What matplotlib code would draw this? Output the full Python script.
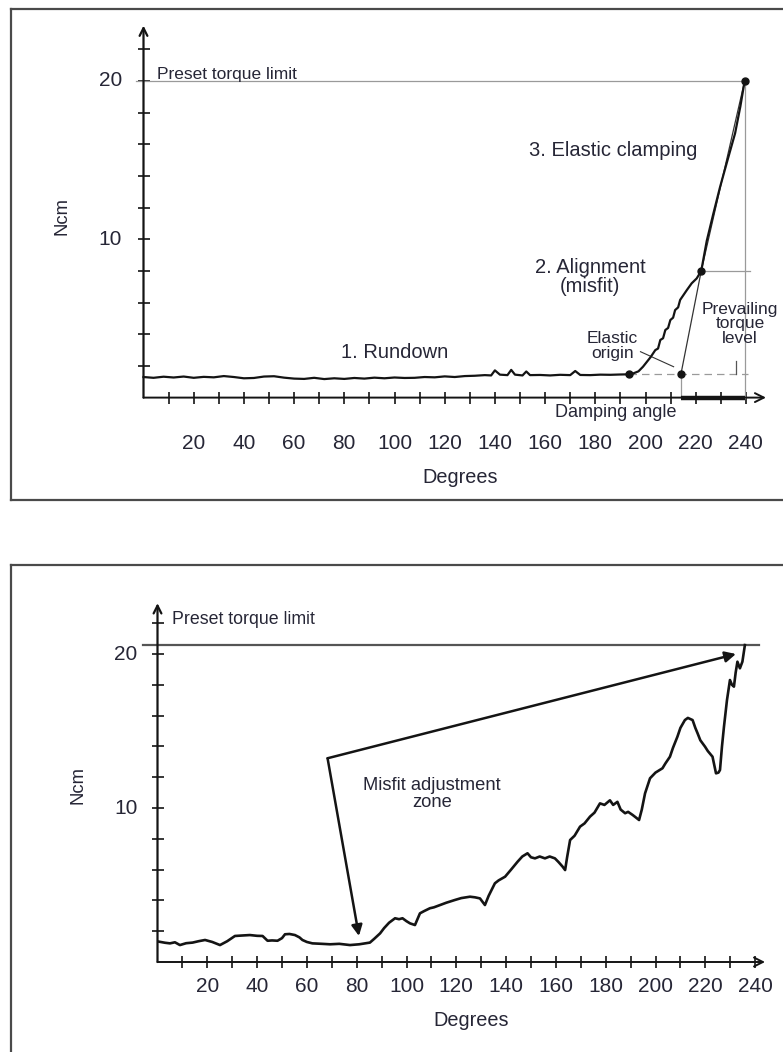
import matplotlib
matplotlib.use("Agg")
import matplotlib.pyplot as plt
from matplotlib.lines import Line2D

plt.rcParams['font.family'] = ['Liberation Sans', 'DejaVu Sans']

# ---------------- data ----------------
x_tick_labels = [20, 40, 60, 80, 100, 120, 140, 160, 180, 200, 220, 240]
x_minor_ticks = list(range(10, 250, 10))
y_ticks = [2, 4, 6, 8, 10, 12, 14, 16, 18, 20, 22]
y_tick_labels = [10, 20]

# Top panel: torque curve (degrees, Ncm)
top_deg = [0, 4, 8, 12, 16, 20, 24, 28, 32, 36, 40, 44, 48, 52, 56, 60, 64, 68, 72, 76,
           80, 84, 88, 92, 96, 100, 104, 108, 112, 116, 120, 124, 128, 132, 136, 138.5,
           140, 142, 145, 146.5, 148, 151, 152.5, 154, 158, 162, 166, 170, 172, 174, 178,
           182, 186, 190, 193.3, 195, 197.2, 199, 200.6, 202, 203.9, 205, 205.9, 207,
           207.9, 209, 209.9, 211, 211.8, 213, 213.8, 215, 216.5, 218.4, 220.4, 222.2,
           224.4, 227, 229.7, 232.5, 235.7, 237.8, 239.5]
top_ncm = [1.30, 1.25, 1.32, 1.27, 1.33, 1.25, 1.31, 1.28, 1.36, 1.30, 1.22, 1.24, 1.33,
           1.35, 1.26, 1.20, 1.18, 1.25, 1.17, 1.22, 1.18, 1.24, 1.20, 1.26, 1.22, 1.27,
           1.24, 1.25, 1.30, 1.28, 1.34, 1.30, 1.36, 1.38, 1.42, 1.40, 1.72, 1.45, 1.42,
           1.75, 1.45, 1.40, 1.65, 1.42, 1.43, 1.40, 1.44, 1.42, 1.68, 1.43, 1.42, 1.45,
           1.44, 1.46, 1.47, 1.52, 1.66, 1.95, 2.27, 2.55, 3.00, 3.10, 3.64, 3.75, 4.27,
           4.40, 4.90, 5.05, 5.53, 5.70, 6.17, 6.45, 6.80, 7.22, 7.53, 8.00, 9.90, 11.60,
           13.30, 14.90, 16.70, 18.40, 20.00]

# Key points on the top panel
elastic_origin = (193.3, 1.47)
prevailing_start = (214.1, 1.47)
alignment_end = (222.2, 8.0)
limit_point = (239.5, 20.0)
torque_limit_top = 20.0

# Bottom panel: torque curve (degrees, Ncm)
bot_deg = [0.6, 3, 5, 7, 9, 11.5, 14.1, 16.5, 19.1, 22, 25.1, 28, 31.1, 34, 37.1, 40, 42.2,
           44.2, 46, 48.2, 50, 51.2, 53, 55.2, 57, 58.2, 60, 62.2, 66, 69.3, 73, 77.3, 81,
           85.3, 87, 89.4, 91, 93, 95.4, 97, 98.4, 100, 101.4, 103.4, 105.4, 107, 109.4,
           111, 113.5, 116, 119.5, 122, 125.5, 127.5, 129.5, 131.5, 133, 135.5, 137,
           139.6, 142, 144.6, 146.5, 148.6, 150, 151.6, 153.5, 155.6, 157.5, 159.6, 161,
           162.7, 163.7, 164.5, 165.7, 167.5, 169.7, 171.5, 173.7, 175.5, 177.7, 179.5,
           181.7, 183, 184.7, 186, 187.8, 189, 190.8, 192, 193.4, 194.5, 195.8, 197.8,
           200, 202.8, 204, 205.8, 207, 208.8, 210, 211.8, 213, 214.9, 216, 216.9, 218,
           219.9, 221, 222.9, 224.3, 225.3, 225.9, 226.7, 227.5, 228.7, 229.9, 230.7,
           231.5, 232.2, 232.9, 233.9, 234.9, 235.9]
bot_ncm = [1.32, 1.25, 1.21, 1.28, 1.10, 1.22, 1.26, 1.35, 1.43, 1.30, 1.10, 1.35, 1.69,
           1.72, 1.75, 1.70, 1.69, 1.38, 1.40, 1.38, 1.55, 1.80, 1.82, 1.75, 1.60, 1.43,
           1.30, 1.21, 1.18, 1.15, 1.18, 1.10, 1.15, 1.26, 1.50, 1.86, 2.20, 2.55, 2.84,
           2.78, 2.84, 2.65, 2.51, 2.40, 3.16, 3.30, 3.49, 3.55, 3.70, 3.85, 4.03, 4.15,
           4.24, 4.20, 4.13, 3.70, 4.30, 5.11, 5.30, 5.54, 6.00, 6.51, 6.85, 7.06, 6.80,
           6.73, 6.85, 6.73, 6.85, 6.73, 6.50, 6.19, 5.97, 6.80, 7.92, 8.20, 8.79, 9.00,
           9.44, 9.70, 10.30, 10.20, 10.50, 10.20, 10.40, 9.90, 9.66, 9.75, 9.55, 9.40,
           9.22, 9.90, 10.95, 11.93, 12.30, 12.58, 12.90, 13.33, 13.90, 14.63, 15.20,
           15.71, 15.85, 15.71, 15.20, 14.85, 14.40, 13.98, 13.70, 13.33, 12.25, 12.30,
           12.47, 14.00, 15.28, 17.00, 18.31, 18.00, 17.88, 18.80, 19.50, 19.07, 19.50,
           20.58]
torque_limit_bot = 20.58
arrow_origin = (68.3, 13.23)
arrow_end_top = (232.3, 20.0)
arrow_end_bottom = (80.9, 1.69)

# ---------------- layout ----------------
W, H = 783, 1052
TXT = '#262636'
LINE = '#141414'
GRAY = '#9a9a9a'

fig = plt.figure(figsize=(W / 100, H / 100), dpi=100)
fig.patch.set_facecolor('white')


def make_axes(left, right, top, bottom, x0px, xscale, y0px, yscale):
    ax = fig.add_axes([left / W, 1 - bottom / H, (right - left) / W, (bottom - top) / H])
    ax.set_xlim((left - x0px) / xscale, (right - x0px) / xscale)
    ax.set_ylim((y0px - bottom) / yscale, (y0px - top) / yscale)
    ax.axis('off')
    return ax


def draw_frame(ax, xmax_arrow, ytop_arrow, label_y, deg_y, ncm_x, ylab_x):
    # axes lines with open arrows
    ax.annotate('', xy=(xmax_arrow, 0), xytext=(0, 0),
                arrowprops=dict(arrowstyle='->', lw=1.4, color=LINE, mutation_scale=16,
                                shrinkA=0, shrinkB=0))
    ax.annotate('', xy=(0, ytop_arrow), xytext=(0, 0),
                arrowprops=dict(arrowstyle='->', lw=1.6, color=LINE, mutation_scale=14,
                                shrinkA=0, shrinkB=0))
    ax.plot(x_minor_ticks, [0] * len(x_minor_ticks), ls='none', marker='|', ms=9,
            mew=1.2, color=LINE, clip_on=False)
    ax.plot([0] * len(y_ticks), y_ticks, ls='none', marker='_', ms=9, mew=1.2,
            color=LINE, clip_on=False)
    for v in x_tick_labels:
        ax.text(v, label_y, str(v), ha='center', va='center', fontsize=15, color=TXT)
    for v in y_tick_labels:
        ax.text(ylab_x, v, str(v), ha='right', va='center', fontsize=15, color=TXT)
    ax.text(126, deg_y, 'Degrees', ha='center', va='center', fontsize=14.3, color=TXT)
    ax.text(ncm_x, 11.5, 'Ncm', ha='center', va='center', rotation=90, fontsize=13.3,
            color=TXT)


# panel borders
def border(x0, y0, x1, y1, bottom=True):
    kw = dict(color='#4a4a4a', lw=1.6, transform=fig.transFigure)
    fig.add_artist(Line2D([x0 / W, x1 / W], [1 - y0 / H, 1 - y0 / H], **kw))
    fig.add_artist(Line2D([x0 / W, x0 / W], [1 - y0 / H, 1 - y1 / H], **kw))
    if bottom:
        fig.add_artist(Line2D([x0 / W, x1 / W], [1 - y1 / H, 1 - y1 / H], **kw))


border(10.5, 9, 790, 500, bottom=True)
border(10.5, 565, 790, 1060, bottom=False)

# ---------------- top panel ----------------
ax1 = make_axes(12, 783, 10, 498, 143.5, 2.51, 397.6, 15.83)
draw_frame(ax1, 248, 23.5, -2.87, -5.02, -32.5, -8.6)

# reference lines
ax1.plot([-3, limit_point[0]], [torque_limit_top, torque_limit_top], color=GRAY, lw=0.9)
ax1.plot([limit_point[0], limit_point[0]], [0, limit_point[1]], color=GRAY, lw=0.9)
ax1.plot([alignment_end[0], 241.5], [alignment_end[1], alignment_end[1]], color=GRAY, lw=0.9)
ax1.plot([prevailing_start[0], prevailing_start[0]], [0, prevailing_start[1]], color=GRAY, lw=0.9)
ax1.plot([elastic_origin[0], 241], [elastic_origin[1], elastic_origin[1]], color=GRAY,
         lw=0.9, ls=(0, (6, 4)))
ax1.plot([236, 236], [elastic_origin[1], 2.3], color='#555555', lw=0.9)
# damping angle segment
ax1.plot([prevailing_start[0], limit_point[0]], [0, 0], color=LINE, lw=3.2,
         solid_capstyle='butt')
# prevailing torque line and clamping straight line
ax1.plot([prevailing_start[0], alignment_end[0]], [prevailing_start[1], alignment_end[1]],
         color='#333333', lw=0.9)
ax1.plot([alignment_end[0], limit_point[0]], [alignment_end[1], limit_point[1]],
         color='#333333', lw=0.9)
# elastic origin leader
ax1.plot([198, 211.2], [2.9, 1.95], color='#333333', lw=0.8)
# curve
ax1.plot(top_deg, top_ncm, color=LINE, lw=1.6)
pts = [elastic_origin, prevailing_start, alignment_end, limit_point]
ax1.plot([p[0] for p in pts], [p[1] for p in pts], ls='none', marker='o', ms=5,
         color=LINE)

ax1.text(5.4, 20.43, 'Preset torque limit', ha='left', va='center', fontsize=12.5, color=TXT)
ax1.text(187, 15.64, '3. Elastic clamping', ha='center', va='center', fontsize=14.5, color=TXT)
ax1.text(178, 7.65, '2. Alignment\n(misfit)', ha='center', va='center', fontsize=14.5,
         color=TXT, linespacing=1.0)
ax1.text(237.6, 4.67, 'Prevailing\ntorque\nlevel', ha='center', va='center', fontsize=12.5,
         color=TXT, linespacing=0.95)
ax1.text(186.7, 3.23, 'Elastic\norigin', ha='center', va='center', fontsize=12.5,
         color=TXT, linespacing=1.0)
ax1.text(100.2, 2.82, '1. Rundown', ha='center', va='center', fontsize=14.5, color=TXT)
ax1.text(188.2, -0.97, 'Damping angle', ha='center', va='center', fontsize=13, color=TXT)

# ---------------- bottom panel ----------------
ax2 = make_axes(12, 783, 566, 1052, 157.5, 2.49, 962, 15.4)
draw_frame(ax2, 244, 23.3, -1.56, -3.77, -31.9, -8.0)

ax2.plot([-6, 241.6], [torque_limit_bot, torque_limit_bot], color='#555555', lw=1.6)
ax2.plot(bot_deg, bot_ncm, color=LINE, lw=1.9)
for end in (arrow_end_top, arrow_end_bottom):
    ax2.annotate('', xy=end, xytext=arrow_origin,
                 arrowprops=dict(arrowstyle='-|>', lw=1.8, color=LINE, mutation_scale=16,
                                 shrinkA=0, shrinkB=0))
ax2.text(6.0, 22.27, 'Preset torque limit', ha='left', va='center', fontsize=12.8, color=TXT)
ax2.text(110.2, 10.88, 'Misfit adjustment\nzone', ha='center', va='center', fontsize=13.2,
         color=TXT, linespacing=1.0)

fig.savefig('out.png', dpi=100, facecolor='white')
